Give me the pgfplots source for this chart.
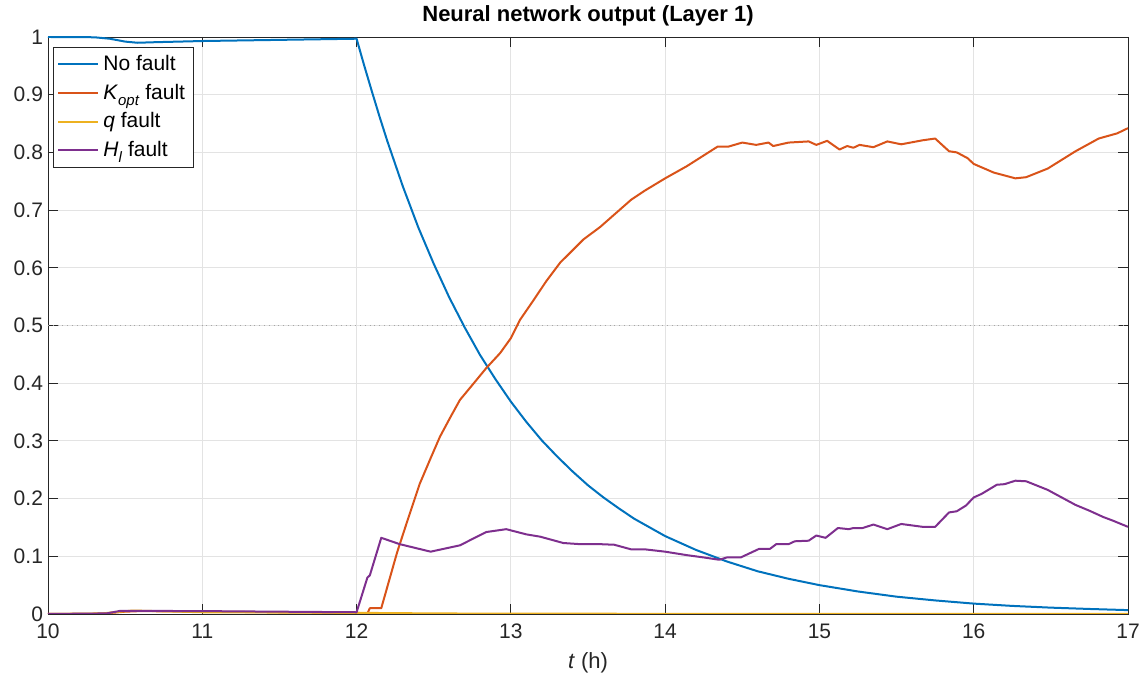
\documentclass[border=0pt]{standalone}
\usepackage{fontspec}
\setmainfont{Liberation Sans}
\usepackage{pgfplots}
\pgfplotsset{compat=1.18}
\definecolor{mblue}{rgb}{0,0.447,0.741}
\definecolor{morange}{rgb}{0.85,0.325,0.098}
\definecolor{myellow}{rgb}{0.929,0.694,0.125}
\definecolor{mpurple}{rgb}{0.494,0.184,0.556}
\definecolor{axgray}{gray}{0.15}
\newcommand{\sub}[1]{\raisebox{-0.55ex}{\fontsize{7.5}{8}\selectfont\textit{#1}}}
\begin{document}
\begin{tikzpicture}
\begin{axis}[
  scale only axis,
  width=540pt, height=288.5pt,
  xmin=10, xmax=17, ymin=0, ymax=1,
  xtick={10,11,...,17},
  ytick={0,0.1,0.2,0.3,0.4,0.5,0.6,0.7,0.8,0.9,1},
  yticklabels={0,0.1,0.2,0.3,0.4,0.5,0.6,0.7,0.8,0.9,1},
  /pgf/number format/assume math mode=true,
  tick label style={font=\fontsize{10.5}{12}\selectfont, color=axgray},
  xticklabel style={yshift=-1.5pt},
  yticklabel style={xshift=1pt},
  tick align=inside,
  tick pos=both,
  major tick length=5pt,
  every tick/.style={axgray, line width=0.4pt},
  axis line style={axgray, line width=0.4pt},
  grid=major,
  major grid style={gray!22, line width=0.4pt},
  title={\bfseries Neural network output (Layer 1)},
  title style={font=\fontsize{11}{13}\selectfont, yshift=-4pt},
  xlabel={\textit{t} (h)},
  xlabel style={font=\fontsize{11}{13}\selectfont, color=axgray, yshift=0pt},
  legend style={at={(rel axis cs:0.0046,0.983)}, anchor=north west,
    draw=axgray, line width=0.4pt, fill=white,
    font=\fontsize{10.5}{12}\selectfont, inner sep=2pt, row sep=1.2pt},
  legend cell align=left,
  legend image code/.code={\draw[#1, line width=1pt] (0pt,0pt) -- (20pt,0pt);},
]
\coordinate (SW) at (rel axis cs:0,0);
\coordinate (NE) at (rel axis cs:1,1);
\addplot[gray!70, line width=0.4pt, dotted, forget plot] coordinates {(10,0.5) (17,0.5)};
% No fault
\addplot[mblue, line width=1pt, line join=round] coordinates {
(10,1.0)(10.3,0.9995)(10.4,0.997)(10.5,0.992)(10.58,0.990)(10.7,0.991)(11,0.993)(11.5,0.995)(12,0.997)
(12.05,0.950)(12.1,0.905)(12.15,0.861)(12.2,0.819)(12.3,0.741)(12.4,0.670)(12.5,0.607)(12.6,0.549)
(12.7,0.497)(12.8,0.449)(12.9,0.407)(13.0,0.368)(13.1,0.333)(13.2,0.301)(13.3,0.273)(13.4,0.247)
(13.5,0.223)(13.6,0.202)(13.7,0.183)(13.8,0.165)(13.9,0.150)(14.0,0.135)(14.2,0.111)(14.4,0.091)
(14.6,0.074)(14.8,0.061)(15.0,0.050)(15.25,0.039)(15.5,0.030)(15.75,0.0235)(16.0,0.018)(16.25,0.014)
(16.5,0.011)(16.75,0.0087)(17.0,0.0067)};
\addlegendentry{No fault}
% K_opt fault
\addplot[morange, line width=1pt, line join=round] coordinates {
(10,0)(10.35,0.0005)(10.5,0.004)(10.6,0.005)(11,0.004)(12,0.002)(12.07,0.001)(12.086,0.01)(12.16,0.01)
(12.263,0.107)(12.33,0.162)(12.41,0.226)(12.48,0.27)(12.54,0.307)(12.61,0.342)(12.67,0.371)(12.76,0.40)
(12.84,0.426)(12.93,0.452)(13.0,0.478)(13.06,0.51)(13.15,0.545)(13.23,0.577)(13.32,0.609)(13.47,0.649)
(13.58,0.671)(13.78,0.718)(13.87,0.734)(14.0,0.755)(14.14,0.776)(14.34,0.81)(14.41,0.81)(14.50,0.817)
(14.59,0.813)(14.67,0.817)(14.70,0.811)(14.80,0.817)(14.93,0.819)(14.98,0.813)(15.05,0.82)(15.13,0.805)
(15.18,0.811)(15.22,0.808)(15.26,0.813)(15.35,0.809)(15.44,0.819)(15.53,0.814)(15.67,0.821)(15.75,0.824)
(15.84,0.802)(15.89,0.80)(15.96,0.79)(16.0,0.78)(16.13,0.765)(16.27,0.755)(16.34,0.757)(16.48,0.772)
(16.66,0.802)(16.81,0.824)(16.93,0.833)(17.0,0.842)};
\addlegendentry{\textit{K}\sub{opt} fault}
% q fault
\addplot[myellow, line width=1pt, line join=round] coordinates {
(10,0)(10.35,0.001)(10.55,0.006)(10.7,0.005)(11,0.003)(12,0.002)(12.5,0.001)(13,0.0005)(17,0.0)};
\addlegendentry{\textit{q} fault}
% H_l fault
\addplot[mpurple, line width=1pt, line join=round] coordinates {
(10,0)(10.38,0.001)(10.47,0.0055)(11,0.005)(12,0.003)(12.07,0.063)(12.086,0.067)(12.16,0.132)
(12.28,0.121)(12.48,0.108)(12.67,0.119)(12.84,0.142)(12.97,0.147)(13.10,0.138)(13.19,0.134)(13.34,0.123)
(13.45,0.121)(13.58,0.121)(13.67,0.120)(13.78,0.112)(13.87,0.112)(14.0,0.108)(14.14,0.102)(14.25,0.098)
(14.35,0.094)(14.40,0.098)(14.49,0.098)(14.57,0.108)(14.61,0.113)(14.68,0.113)(14.72,0.121)(14.80,0.121)
(14.84,0.126)(14.93,0.127)(14.98,0.136)(15.04,0.132)(15.12,0.149)(15.19,0.147)(15.22,0.149)(15.28,0.149)
(15.35,0.155)(15.44,0.147)(15.53,0.156)(15.67,0.151)(15.75,0.151)(15.84,0.176)(15.89,0.178)(15.95,0.188)
(16.0,0.202)(16.05,0.208)(16.15,0.224)(16.20,0.225)(16.27,0.231)(16.34,0.230)(16.48,0.215)(16.57,0.202)
(16.66,0.189)(16.75,0.179)(16.84,0.168)(16.90,0.162)(17.0,0.151)};
\addlegendentry{\textit{H}\sub{l} fault}
\end{axis}
\pgfresetboundingbox
\path ([shift={(-24pt,-31.5pt)}]SW) rectangle ([shift={(8.5pt,18.5pt)}]NE);
\end{tikzpicture}
\end{document}
